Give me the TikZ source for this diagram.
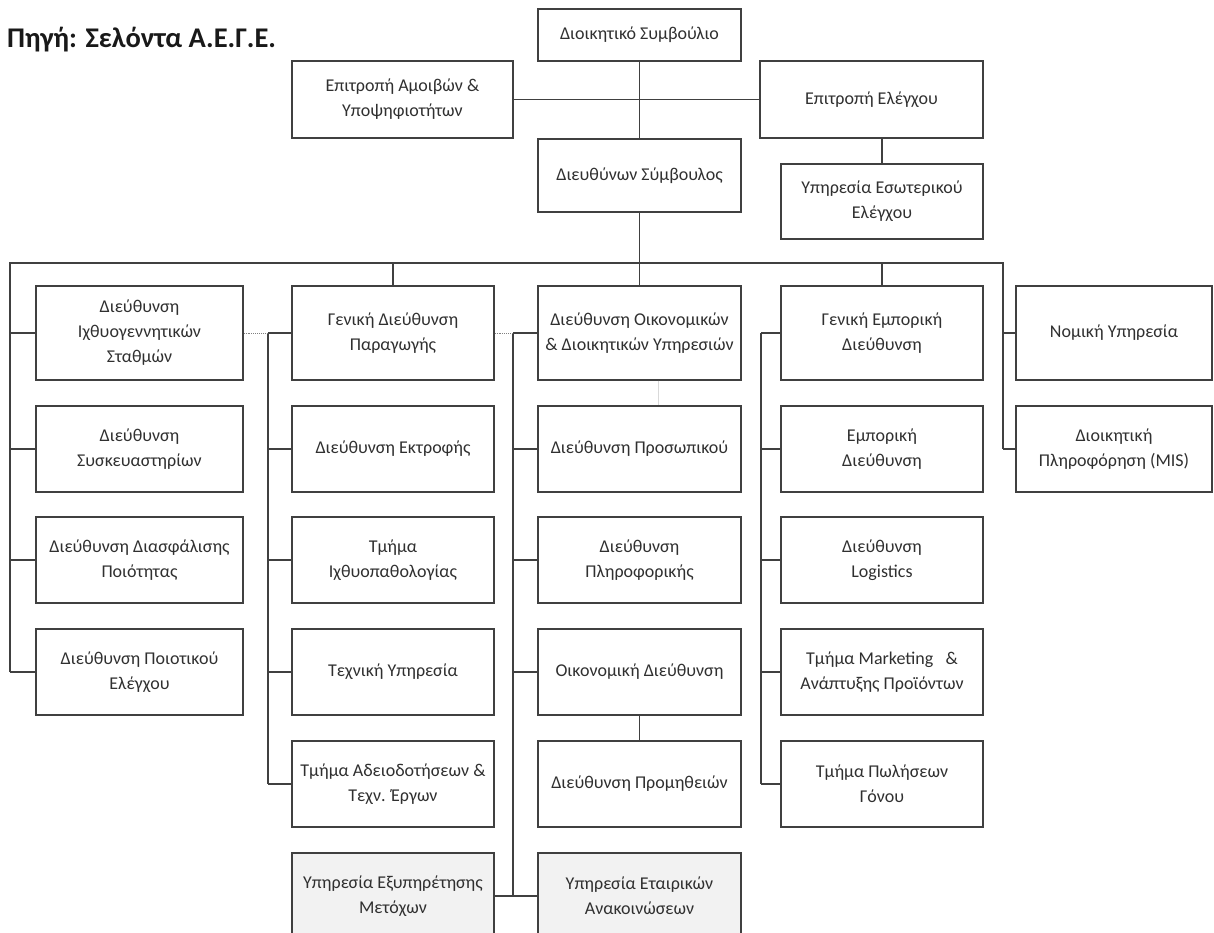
\documentclass[tikz,border=0pt]{standalone}
\usepackage{fontspec}
\setmainfont{Carlito}
\definecolor{linecol}{HTML}{404040}
\definecolor{txtcol}{HTML}{303030}
\definecolor{shade}{HTML}{F2F2F2}
\begin{document}
\begin{tikzpicture}[x=1pt,y=-1pt,
  box/.style={draw=linecol, line width=1.4pt, inner sep=0pt, align=center, text=txtcol,
    font=\fontsize{18}{25}\selectfont, minimum height=86pt},
  colA/.style={box, minimum width=207pt},
  colB/.style={box, minimum width=202pt},
  colC/.style={box, minimum width=203pt},
  colD/.style={box, minimum width=202pt},
  colE/.style={box, minimum width=196pt},
  tall/.style={minimum height=94pt},
  shaded/.style={fill=shade},
  conn/.style={draw=linecol, line width=1.3pt, line join=miter},
  dots/.style={draw=gray, line width=0.9pt, densely dotted},
  faint/.style={draw=gray!30, line width=0.8pt}]
\clip (0,0) rectangle (1214,933);
\fill[white] (0,0) rectangle (1214,933);

% title
\node[anchor=base west, inner sep=0pt, font=\bfseries\fontsize{28.5}{32}\selectfont, text=black!90] (title) at (7,48) {Πηγή: Σελόντα Α.Ε.Γ.Ε.};

% top
\node[box, minimum width=203pt, minimum height=52pt] (board) at (639.5,35) {Διοικητικό Συμβούλιο};
\node[box, minimum width=221pt, minimum height=77pt] (remun) at (402.5,99.5) {Επιτροπή Αμοιβών \&\\Υποψηφιοτήτων};
\node[box, minimum width=223pt, minimum height=77pt] (audit) at (871.5,99.5) {Επιτροπή Ελέγχου};
\node[box, minimum width=203pt, minimum height=73pt] (ceo) at (639.5,175.5) {Διευθύνων Σύμβουλος};
\node[box, minimum width=202pt, minimum height=75pt] (intaudit) at (882,201.5) {Υπηρεσία Εσωτερικού\\Ελέγχου};

% column 1
\node[colA, tall] (c1r1) at (139.5,333) {Διεύθυνση\\Ιχθυογεννητικών\\Σταθμών};
\node[colA] (c1r2) at (139.5,449) {Διεύθυνση\\Συσκευαστηρίων};
\node[colA] (c1r3) at (139.5,560) {Διεύθυνση Διασφάλισης\\Ποιότητας};
\node[colA] (c1r4) at (139.5,672) {Διεύθυνση Ποιοτικού\\Ελέγχου};

% column 2
\node[colB, tall] (c2r1) at (393,333) {Γενική Διεύθυνση\\Παραγωγής};
\node[colB] (c2r2) at (393,449) {Διεύθυνση Εκτροφής};
\node[colB] (c2r3) at (393,560) {Τμήμα\\Ιχθυοπαθολογίας};
\node[colB] (c2r4) at (393,672) {Τεχνική Υπηρεσία};
\node[colB] (c2r5) at (393,784) {Τμήμα Αδειοδοτήσεων \&\\Τεχν. Έργων};
\node[colB, shaded] (c2r6) at (393,896) {Υπηρεσία Εξυπηρέτησης\\Μετόχων};

% column 3
\node[colC, tall] (c3r1) at (639.5,333) {Διεύθυνση Οικονομικών\\\& Διοικητικών Υπηρεσιών};
\node[colC] (c3r2) at (639.5,449) {Διεύθυνση Προσωπικού};
\node[colC] (c3r3) at (639.5,560) {Διεύθυνση\\Πληροφορικής};
\node[colC] (c3r4) at (639.5,672) {Οικονομική Διεύθυνση};
\node[colC] (c3r5) at (639.5,784) {Διεύθυνση Προμηθειών};
\node[colC, shaded] (c3r6) at (639.5,896) {Υπηρεσία Εταιρικών\\Ανακοινώσεων};

% column 4
\node[colD, tall] (c4r1) at (882,333) {Γενική Εμπορική\\Διεύθυνση};
\node[colD] (c4r2) at (882,449) {Εμπορική\\Διεύθυνση};
\node[colD] (c4r3) at (882,560) {Διεύθυνση\\Logistics};
\node[colD] (c4r4) at (882,672) {Τμήμα Marketing\ \ \ \&\\Ανάπτυξης Προϊόντων};
\node[colD] (c4r5) at (882,784) {Τμήμα Πωλήσεων\\Γόνου};

% column 5
\node[colE, tall] (c5r1) at (1114,333) {Νομική Υπηρεσία};
\node[colE] (c5r2) at (1114,449) {Διοικητική\\Πληροφόρηση (MIS)};

% top connectors
\draw[conn] (board.south) -- (ceo.north);
\draw[conn] (remun.east) -- (audit.west);
\draw[conn] (audit.south -| intaudit.north) -- (intaudit.north);

% bus
\coordinate (busL) at (10,263);
\coordinate (busR) at (1003,263);
\draw[conn] (ceo.south) -- (ceo.south |- busL);
\draw[conn] (busL |- c1r4.west) -- (busL) -- (busR) -- (busR |- c5r2.west);
\foreach \n in {c2r1,c3r1,c4r1} \draw[conn] (\n.north |- busL) -- (\n.north);

% column 1 ticks
\foreach \n in {c1r1,c1r2,c1r3,c1r4} \draw[conn] (busL |- \n.west) -- (\n.west);
% column 5 ticks
\foreach \n in {c5r1,c5r2} \draw[conn] (busR |- \n.west) -- (\n.west);

% column 2 spine
\coordinate (s2) at (268,333);
\draw[conn] (s2) -- (s2 |- c2r5.west);
\foreach \n in {c2r1,c2r2,c2r3,c2r4,c2r5} \draw[conn] (s2 |- \n.west) -- (\n.west);
\draw[dots] (c1r1.east) -- (s2);

% column 3 spine
\coordinate (s3) at (513,333);
\draw[conn] (s3) -- (s3 |- c3r6.west);
\foreach \n in {c3r1,c3r2,c3r3,c3r4} \draw[conn] (s3 |- \n.west) -- (\n.west);
\draw[dots] (c2r1.east) -- (s3);
\draw[conn] (c2r6.east) -- (c3r6.west);
\draw[conn] (c3r4.south) -- (c3r5.north);
\draw[faint] ([xshift=18.5pt]c3r1.south) -- ([xshift=18.5pt]c3r2.north);

% column 4 spine
\coordinate (s4) at (761,333);
\draw[conn] (s4) -- (s4 |- c4r5.west);
\foreach \n in {c4r1,c4r2,c4r3,c4r4,c4r5} \draw[conn] (s4 |- \n.west) -- (\n.west);
\end{tikzpicture}
\end{document}
